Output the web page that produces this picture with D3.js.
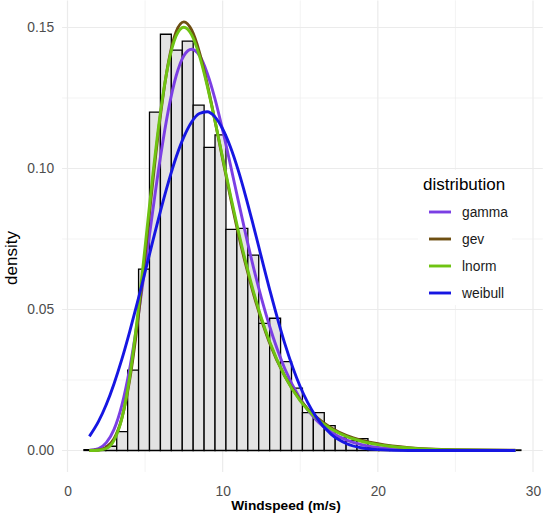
<!DOCTYPE html>
<html>
<head>
<meta charset="utf-8">
<script src="https://cdn.jsdelivr.net/npm/d3@7"></script>
<style>
  body { margin: 0; background: #fff; }
  text { font-family: "Liberation Sans", Arial, sans-serif; }
</style>
</head>
<body>
<script>
// histogram: 40 bins starting at binStart, each binWidth wide (density per bin)
const binStart = 1.06;
const binWidth = 0.704;
const binDensity = [
  0.0003, 0.0005, 0.0015, 0.0067, 0.0285, 0.0643, 0.1200, 0.1476, 0.1420, 0.1452,
  0.1225, 0.1075, 0.1119, 0.0784, 0.0788, 0.0693, 0.0451, 0.0469, 0.0315, 0.0221,
  0.0134, 0.0134, 0.0088, 0.0045, 0.0035, 0.0042, 0.0010, 0.0008, 0.0004, 0.0002,
  0, 0, 0, 0, 0, 0, 0, 0, 0, 0.0002
];

// fitted density curves
const curveX = [1.41, 2, 2.5, 3, 3.5, 4, 4.5, 5, 5.5, 6, 6.5, 7, 7.5, 8, 8.5, 9, 9.5, 10,
  10.5, 11, 11.5, 12, 13, 14, 15, 16, 17, 18, 19, 20, 22, 25, 28.87];
const gammaY = [0.0001, 0.0007, 0.0028, 0.0075, 0.0160, 0.0288, 0.0456, 0.0650, 0.0852, 0.1044,
  0.1207, 0.1328, 0.1400, 0.1423, 0.1401, 0.1339, 0.1248, 0.1136, 0.1013, 0.0887, 0.0763, 0.0646,
  0.0445, 0.0291, 0.0183, 0.0110, 0.0065, 0.0037, 0.0020, 0.0011, 0.0003, 0.0000, 0.0000];
const gevY = [0.0000, 0.0002, 0.0012, 0.0042, 0.0114, 0.0248, 0.0446, 0.0694, 0.0956, 0.1193,
  0.1375, 0.1485, 0.1520, 0.1491, 0.1413, 0.1301, 0.1170, 0.1033, 0.0898, 0.0771, 0.0656, 0.0553,
  0.0385, 0.0264, 0.0179, 0.0120, 0.0080, 0.0053, 0.0036, 0.0024, 0.0010, 0.0003, 0.0001];
const lnormY = [0.0000, 0.0001, 0.0007, 0.0036, 0.0113, 0.0258, 0.0470, 0.0722, 0.0978, 0.1203,
  0.1371, 0.1470, 0.1501, 0.1474, 0.1400, 0.1294, 0.1170, 0.1038, 0.0906, 0.0781, 0.0665, 0.0561,
  0.0390, 0.0264, 0.0176, 0.0116, 0.0076, 0.0049, 0.0032, 0.0021, 0.0009, 0.0002, 0.0000];
const weibullY = [0.0050, 0.0103, 0.0163, 0.0237, 0.0323, 0.0420, 0.0524, 0.0633, 0.0743, 0.0851,
  0.0951, 0.1040, 0.1112, 0.1165, 0.1195, 0.1201, 0.1183, 0.1140, 0.1076, 0.0994, 0.0898, 0.0793,
  0.0577, 0.0380, 0.0226, 0.0121, 0.0057, 0.0024, 0.0009, 0.0003, 0.0000, 0.0000, 0.0000];

const distNames = ["gamma", "gev", "lnorm", "weibull"];
const distColors = ["#7B3FE4", "#6E4F12", "#6FC312", "#1616E2"];
const distValues = [gammaY, gevY, lnormY, weibullY];

const xTicks = [0, 10, 20, 30];
const xMinor = [5, 15, 25];
const yTicks = [0, 0.05, 0.10, 0.15];
const yMinor = [0.025, 0.075, 0.125];

const W = 550, H = 515;
const x = d3.scaleLinear().domain([0, 30]).range([67.5, 533]);
const y = d3.scaleLinear().domain([0, 0.15]).range([450.5, 27.5]);
const panelLeft = x(-0.35), panelRight = x(30.63), panelTop = y(0.1596), panelBottom = y(-0.0076);

const svg = d3.select("body").append("svg")
  .attr("width", W).attr("height", H);

// grid
const grid = svg.append("g").attr("stroke", "#EBEBEB").attr("fill", "none");
grid.selectAll(".ymin").data(yMinor).enter().append("line")
  .attr("x1", panelLeft).attr("x2", panelRight)
  .attr("y1", d => y(d)).attr("y2", d => y(d)).attr("stroke-width", 0.6);
grid.selectAll(".xmin").data(xMinor).enter().append("line")
  .attr("y1", panelTop).attr("y2", panelBottom)
  .attr("x1", d => x(d)).attr("x2", d => x(d)).attr("stroke-width", 0.6);
grid.selectAll(".ymaj").data(yTicks).enter().append("line")
  .attr("x1", panelLeft).attr("x2", panelRight)
  .attr("y1", d => y(d)).attr("y2", d => y(d)).attr("stroke-width", 1.2);
grid.selectAll(".xmaj").data(xTicks).enter().append("line")
  .attr("y1", panelTop).attr("y2", panelBottom)
  .attr("x1", d => x(d)).attr("x2", d => x(d)).attr("stroke-width", 1.2);

// histogram bars (paths so that empty bins still show their outline)
svg.append("g").selectAll("path").data(binDensity).enter().append("path")
  .attr("d", (d, i) => {
    const x0 = x(binStart + i * binWidth), x1 = x(binStart + (i + 1) * binWidth);
    return "M" + x0 + "," + y(0) + "V" + y(d) + "H" + x1 + "V" + y(0) + "Z";
  })
  .attr("fill", "#E3E3E3")
  .attr("stroke", "#000")
  .attr("stroke-width", 1.3);

// density curves
const line = d3.line()
  .x((d, i) => x(curveX[i]))
  .y(d => y(d))
  .curve(d3.curveMonotoneX);

svg.append("g").selectAll("path").data(distValues).enter().append("path")
  .attr("d", d => line(d))
  .attr("fill", "none")
  .attr("stroke", (d, i) => distColors[i])
  .attr("stroke-width", 2.9)
  .attr("stroke-linecap", "butt");

// axes
const xAxis = svg.append("g")
  .attr("transform", "translate(0," + panelBottom + ")")
  .call(d3.axisBottom(x).tickValues(xTicks).tickSize(0).tickPadding(14).tickFormat(d3.format("d")));
const yAxis = svg.append("g")
  .attr("transform", "translate(" + panelLeft + ",0)")
  .call(d3.axisLeft(y).tickValues(yTicks).tickSize(0).tickPadding(8).tickFormat(d3.format(".2f")));
[xAxis, yAxis].forEach(a => {
  a.select(".domain").remove();
  a.attr("font-family", null).attr("font-size", null);
  a.selectAll("text").attr("fill", "#4D4D4D").style("font-size", "13.8px");
});

svg.append("text")
  .attr("x", 286).attr("y", 510)
  .attr("text-anchor", "middle")
  .style("font-size", "13.7px").style("font-weight", "bold")
  .text("Windspeed (m/s)");

svg.append("text")
  .attr("transform", "translate(17,258) rotate(-90)")
  .attr("text-anchor", "middle")
  .style("font-size", "17px")
  .text("density");

// legend
const legend = svg.append("g");
legend.append("rect")
  .attr("x", 418).attr("y", 170).attr("width", 94).attr("height", 135)
  .attr("fill", "#fff");
legend.append("text")
  .attr("x", 423).attr("y", 190)
  .style("font-size", "17px")
  .text("distribution");
const keys = legend.selectAll(".key").data(distNames).enter().append("g")
  .attr("transform", (d, i) => "translate(0," + (212 + i * 27) + ")");
keys.append("line")
  .attr("x1", 429).attr("x2", 451)
  .attr("stroke", (d, i) => distColors[i])
  .attr("stroke-width", 2.9);
keys.append("text")
  .attr("x", 462).attr("dy", "0.35em")
  .style("font-size", "13.8px")
  .attr("fill", "#1a1a1a")
  .text(d => d);
</script>
</body>
</html>
